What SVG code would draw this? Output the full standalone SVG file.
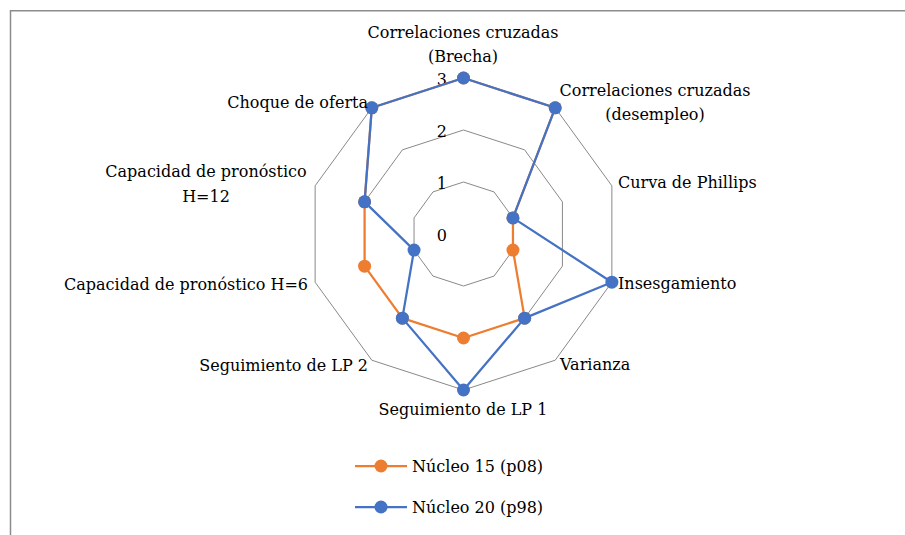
<svg xmlns="http://www.w3.org/2000/svg" width="905" height="535" viewBox="0 0 905 535">
<style>
text{font-family:"DejaVu Serif","Liberation Serif",serif;font-size:16px;fill:#000}
.grid{fill:none;stroke:#898989;stroke-width:1}
.s1{fill:none;stroke:#ED7D31;stroke-width:2.25;stroke-linejoin:round}
.s2{fill:none;stroke:#4472C4;stroke-width:2.25;stroke-linejoin:round}
.d1{fill:#ED7D31}
.d2{fill:#4472C4}
.mid{text-anchor:middle}
.end{text-anchor:end}
</style>
<rect width="905" height="535" fill="#fff"/>
<g id="frame">
<path d="M10.5 535V10.75H905" fill="none" stroke="#8c8c8c" stroke-width="1.5"/>
</g>
<g id="grid" transform="translate(463.5,234)">
<polygon class="grid" points="0,-52 30.57,-42.07 49.46,-16.07 49.46,16.07 30.57,42.07 0,52 -30.57,42.07 -49.46,16.07 -49.46,-16.07 -30.57,-42.07"/>
<polygon class="grid" points="0,-104 61.13,-84.14 98.91,-32.14 98.91,32.14 61.13,84.14 0,104 -61.13,84.14 -98.91,32.14 -98.91,-32.14 -61.13,-84.14"/>
<polygon class="grid" points="0,-156 91.70,-126.21 148.37,-48.21 148.37,48.21 91.70,126.21 0,156 -91.70,126.21 -148.37,48.21 -148.37,-48.21 -91.70,-126.21"/>
</g>
<g id="axis-values">
<text class="end" x="447" y="85">3</text>
<text class="end" x="447" y="137">2</text>
<text class="end" x="447" y="189">1</text>
<text class="end" x="447" y="241">0</text>
</g>
<g id="connectors" transform="translate(463.5,234)">
<g id="series-nucleo15">
<polygon class="s1" points="0,-156 91.70,-126.21 49.46,-16.07 49.46,16.07 61.13,84.14 0,104 -61.13,84.14 -98.91,32.14 -98.91,-32.14 -91.70,-126.21"/>
<g class="d1">
<circle cx="0" cy="-156" r="6.5"/><circle cx="91.70" cy="-126.21" r="6.5"/><circle cx="49.46" cy="-16.07" r="6.5"/><circle cx="49.46" cy="16.07" r="6.5"/><circle cx="61.13" cy="84.14" r="6.5"/><circle cx="0" cy="104" r="6.5"/><circle cx="-61.13" cy="84.14" r="6.5"/><circle cx="-98.91" cy="32.14" r="6.5"/><circle cx="-98.91" cy="-32.14" r="6.5"/><circle cx="-91.70" cy="-126.21" r="6.5"/>
</g>
</g>
<g id="series-nucleo20">
<polygon class="s2" points="0,-156 91.70,-126.21 49.46,-16.07 148.37,48.21 61.13,84.14 0,156 -61.13,84.14 -49.46,16.07 -98.91,-32.14 -91.70,-126.21"/>
<g class="d2">
<circle cx="0" cy="-156" r="6.5"/><circle cx="91.70" cy="-126.21" r="6.5"/><circle cx="49.46" cy="-16.07" r="6.5"/><circle cx="148.37" cy="48.21" r="6.5"/><circle cx="61.13" cy="84.14" r="6.5"/><circle cx="0" cy="156" r="6.5"/><circle cx="-61.13" cy="84.14" r="6.5"/><circle cx="-49.46" cy="16.07" r="6.5"/><circle cx="-98.91" cy="-32.14" r="6.5"/><circle cx="-91.70" cy="-126.21" r="6.5"/>
</g>
</g>
</g>
<g id="label-brecha"><text class="mid" x="463" y="38">Correlaciones cruzadas</text><text class="mid" x="463" y="62">(Brecha)</text></g>
<g id="label-desempleo"><text class="mid" x="655" y="96">Correlaciones cruzadas</text><text class="mid" x="655" y="120">(desempleo)</text></g>
<g id="label-phillips"><text x="618" y="188">Curva de Phillips</text></g>
<g id="label-insesgamiento"><text x="618" y="289">Insesgamiento</text></g>
<g id="label-varianza"><text x="560" y="370">Varianza</text></g>
<g id="label-lp1"><text class="mid" x="463" y="415">Seguimiento de LP 1</text></g>
<g id="label-lp2"><text class="end" x="368" y="371">Seguimiento de LP 2</text></g>
<g id="label-h6"><text class="end" x="308" y="290">Capacidad de pronóstico H=6</text></g>
<g id="label-h12"><text class="mid" x="206" y="177">Capacidad de pronóstico</text><text class="mid" x="206" y="202">H=12</text></g>
<g id="label-choque"><text class="end" x="368" y="108">Choque de oferta</text></g>
<g id="legend">
<g id="legend-nucleo15"><line x1="355" y1="466" x2="407" y2="466" class="s1"/><circle cx="381" cy="466" r="6.5" class="d1"/><text x="412" y="472">Núcleo 15 (p08)</text></g>
<g id="legend-nucleo20"><line x1="355" y1="507" x2="407" y2="507" class="s2"/><circle cx="381" cy="507" r="6.5" class="d2"/><text x="412" y="513">Núcleo 20 (p98)</text></g>
</g>
</svg>
